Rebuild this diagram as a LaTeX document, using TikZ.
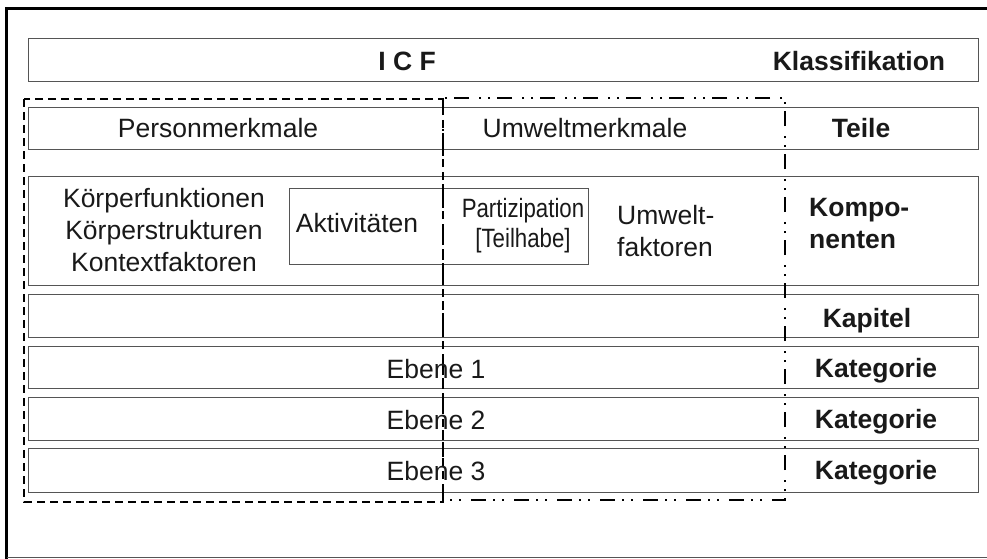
\documentclass[tikz,border=0pt]{standalone}
\usepackage{fontspec}
\setmainfont{Liberation Sans}
\usepackage{xcolor}
\usepackage{tikz}
\definecolor{rahmen}{HTML}{555555}
\newcommand{\schmal}[1]{\scalebox{0.84}[1]{#1}}

\begin{document}
\begin{tikzpicture}[x=1pt, y=-1pt,
    every node/.style={inner sep=0pt, font=\fontsize{26.5}{32}\selectfont, text=black!90},
    zeile/.style={draw=rahmen, line width=1.3pt, minimum width=950pt, anchor=north west},
    fett/.style={font=\fontsize{26.5}{32}\selectfont\bfseries}]
     \useasboundingbox (0,0) rectangle (987,559);

     % Rahmen
     \draw[line width=3pt] (6.5,559) -- (6.5,8.5) -- (990,8.5);
     \draw[rahmen, line width=1pt] (6.5,557) -- (990,557);

     % Zeilen
     \node[zeile, minimum height=43pt] (icf) at (28,38) {};
     \node[zeile, minimum height=42pt] (teile) at (28,107) {};
     \node[zeile, minimum height=109pt] (komp) at (28,176) {};
     \node[zeile, minimum height=43pt] (kapitel) at (28,294) {};
     \node[zeile, minimum height=42pt] (ebene1) at (28,346) {};
     \node[zeile, minimum height=43pt] (ebene2) at (28,397) {};
     \node[zeile, minimum height=44pt] (ebene3) at (28,448) {};
     \node[draw=rahmen, line width=1.3pt, minimum width=299pt, minimum height=76pt, anchor=north west] (aktiv) at (289,188) {};

     % Personmerkmale und Umweltmerkmale
     \draw[line width=1.8pt, dash pattern=on 8pt off 5pt] (24,99) rectangle (443,502);
     \draw[line width=1.8pt, dash pattern=on 15pt off 7pt on 2pt off 7pt on 2pt off 10pt] (443,98) rectangle (785,500);

     \node[fett, anchor=base] (icftext) at (407,71) {I C F};
     \node[fett, anchor=base] (klass) at (859,71) {Klassifikation};
     \node[anchor=base] (person) at (218,138) {Personmerkmale};
     \node[anchor=base] (umwelt) at (585,138) {Umweltmerkmale};
     \node[fett, anchor=base] (teil) at (861,138) {Teile};
     \node[anchor=base, align=center] (koerper) at (164,271) {Körperfunktionen\\Körperstrukturen\\Kontextfaktoren};
     \node[anchor=base] (aktivtext) at (357,232) {Aktivitäten};
     \node[anchor=base, align=center, font=\fontsize{26.5}{30}\selectfont] (partiz) at (523,247) {\schmal{Partizipation}\\\schmal{[Teilhabe]}};
     \node[anchor=base west, align=left] (faktoren) at (617,256) {Umwelt-\\faktoren};
     \node[fett, anchor=base west, align=left] (kompo) at (809,248) {Kompo-\\nenten};
     \node[fett, anchor=base] (kap) at (867,327) {Kapitel};
     \node[anchor=base] (e1) at (436,378) {Ebene 1};
     \node[anchor=base] (e2) at (436,429) {Ebene 2};
     \node[anchor=base] (e3) at (436,480) {Ebene 3};
     \node[fett, anchor=base] (kat1) at (876,377) {Kategorie};
     \node[fett, anchor=base] (kat2) at (876,428) {Kategorie};
     \node[fett, anchor=base] (kat3) at (876,479) {Kategorie};
 \end{tikzpicture}
\end{document}
